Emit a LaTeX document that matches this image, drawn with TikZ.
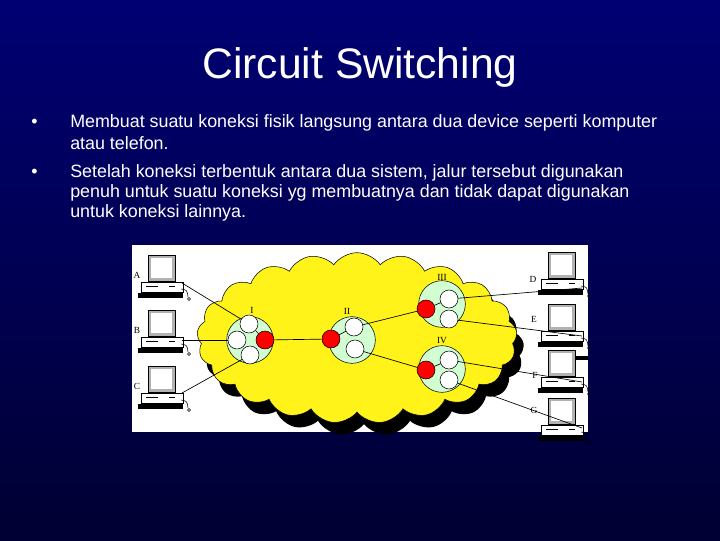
\documentclass[tikz,border=0pt]{standalone}
\usepackage{fontspec}
\setmainfont{Liberation Sans}
\usetikzlibrary{shapes.symbols}
\begin{document}
\begin{tikzpicture}[x=0.75pt,y=-0.75pt,
  sw/.style={circle,draw=black,fill=green!18,minimum size=35pt,inner sep=0pt},
  wp/.style={circle,draw=black,fill=white,minimum size=13.5pt,inner sep=0pt},
  rp/.style={circle,draw=black,fill=red,minimum size=13.5pt,inner sep=0pt},
  lab/.style={font=\fontspec{Liberation Serif}\fontsize{7}{8}\selectfont,inner sep=0pt},
  ln/.style={draw=black,line width=0.5pt},
  txt/.style={anchor=west,text=white,font=\fontsize{13.4}{15}\selectfont,inner sep=0pt}]
\shade[top color=blue!45!black,bottom color=blue!20!black] (0,0) rectangle (720,540);
\useasboundingbox (0,0) rectangle (720,540);
\node[text=white,font=\fontsize{32}{38}\selectfont] (title) at (360,67) {Circuit Switching};
\node[txt] (b1) at (31,123) {•};
\node[txt] (b2) at (31,173) {•};
\node[txt] (t1) at (70,123) {Membuat suatu koneksi fisik langsung antara dua device seperti komputer};
\node[txt] (t2) at (70,143) {atau telefon.};
\node[txt] (t3) at (70,173) {Setelah koneksi terbentuk antara dua sistem, jalur tersebut digunakan};
\node[txt] (t4) at (70,193) {penuh untuk suatu koneksi yg membuatnya dan tidak dapat digunakan};
\node[txt] (t5) at (70,213) {untuk koneksi lainnya.};
\fill[white] (132,245) rectangle (588,432);
% cloud
\node[cloud,cloud puffs=21,cloud puff arc=110,aspect=2,fill=black,minimum width=240pt,minimum height=128pt,inner sep=0pt] (cs) at (364,350) {};
\node[cloud,cloud puffs=21,cloud puff arc=110,aspect=2,fill=yellow!90!white,draw=black,minimum width=240pt,minimum height=128pt,inner sep=0pt] (cl) at (357,338) {};
% computers
\tikzset{pics/pc/.style={code={
 \draw[black,fill=gray!60] (-13,-20) rectangle (14,6);
 \fill[white] (-10,-17) rectangle (11,3);
 \draw[black,fill=white] (-20,7) rectangle (22,17);
 \draw[black] (-15,11) -- (-3,11);
 \draw[black] (8,11) -- (14,11);
 \fill[black] (-23,18) rectangle (22,23);
 \draw[black] (20,14) .. controls (26,15) .. (27,22);
 \draw[black] (28,24) circle (1.5);
}}}
\foreach \n/\x/\y in {A/161/275,B/161/330,C/161/386,D/561/272,E/561/324,F/561/370,G/561/418}
  \pic (pc\n) at (\x,\y) {pc};
\foreach \n/\x/\y in {A/137/275,B/137/330,C/137/386,D/533/279,E/534/319,F/535/375,G/534/410}
  \node[lab] (l\n) at (\x,\y) {\n};
\coordinate (pA) at (182,283); \coordinate (pB) at (182,340); \coordinate (pC) at (182,393);
\coordinate (pD) at (582,288); \coordinate (pE) at (582,336); \coordinate (pF) at (582,382); \coordinate (pG) at (582,428);
\draw[line width=3pt] (575,358) -- (588,358);
% switches
\node[sw] (s1) at (250,340) {}; \node[sw] (s2) at (352,340) {};
\node[sw] (s3) at (442,304) {}; \node[sw] (s4) at (442,369) {};
\node[lab] at (252,310) {I}; \node[lab] at (347,311) {II};
\node[lab] at (442,277) {III}; \node[lab] at (442,341) {IV};
\node[wp] (w1a) at (249,324) {}; \node[wp] (w1b) at (237,340) {}; \node[wp] (w1c) at (250,355) {}; \node[rp] (r1) at (265,340) {};
\node[wp] (w2a) at (354,327) {}; \node[wp] (w2b) at (355,349) {}; \node[rp] (r2) at (331,339) {};
\node[wp] (w3a) at (449,299) {}; \node[wp] (w3b) at (449,319) {}; \node[rp] (r3) at (426,309) {};
\node[wp] (w4a) at (449,360) {}; \node[wp] (w4b) at (449,380) {}; \node[rp] (r4) at (426,370) {};
\draw[ln] (pA) -- (w1a); \draw[ln] (pB) -- (w1b); \draw[ln] (pC) -- (w1c);
\draw[ln] (w1a) -- (r1); \draw[ln] (r1) -- (r2); \draw[ln] (r2) -- (w2a);
\draw[ln] (w2a) -- (r3); \draw[ln] (w2b) -- (r4);
\draw[ln] (r3) -- (w3a); \draw[ln] (r4) -- (w4a);
\draw[ln] (w3a) -- (pD); \draw[ln] (w3b) -- (pE); \draw[ln] (w4a) -- (pF); \draw[ln] (w4b) -- (pG);
\end{tikzpicture}
\end{document}
